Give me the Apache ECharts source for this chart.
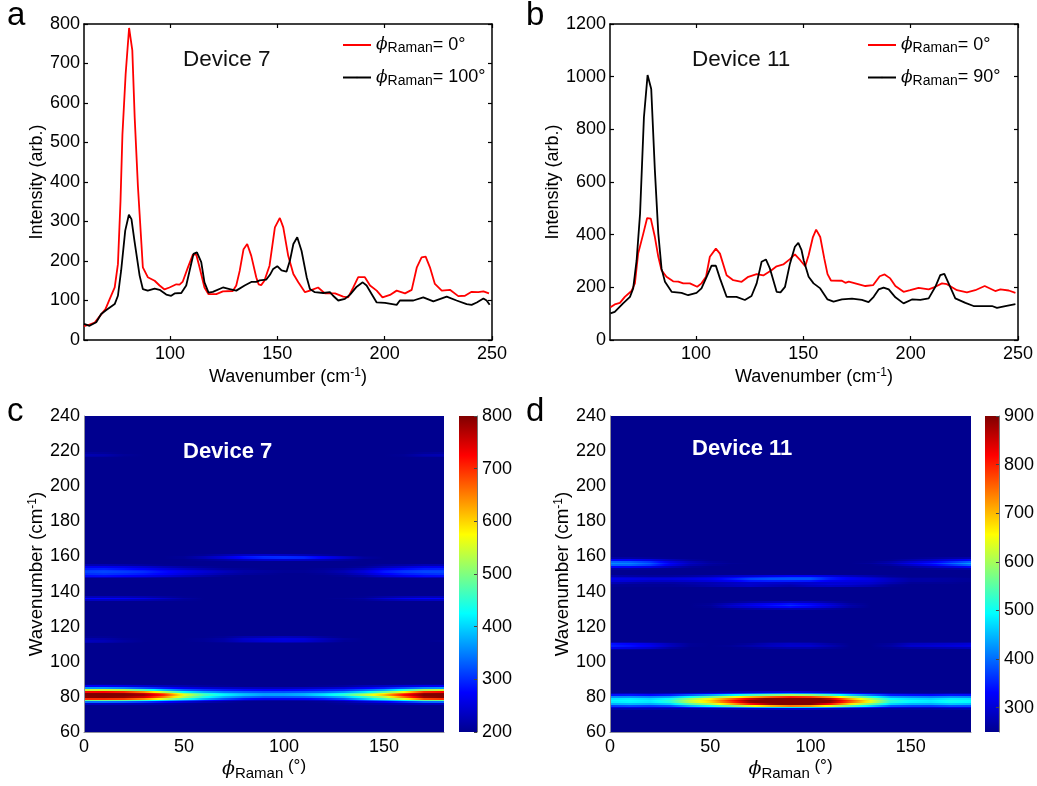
<!DOCTYPE html>
<html><head><meta charset="utf-8">
<style>html,body{margin:0;padding:0;background:#fff}#c{width:1037px;height:786px}</style>
<script src="https://cdn.jsdelivr.net/npm/echarts@6/dist/echarts.min.js"></script>
</head><body><div id="c"></div>
<script>
// Panel a, Device 7: [wavenumber, intensity]
const d7Phi0 = [[60,35],[62,38],[65,44],[67,58],[70,78],[72,104],[74.3,133],[75.8,192],[77,352],[77.9,521],[79.4,674],[81,790],[82.5,733],[83.6,564],[85.1,390],[85.9,319],[87.4,184],[89.7,159],[92.9,150],[95.2,138],[97.5,128],[99.8,133],[103,141],[104.5,140],[106,148],[108.4,184],[110.7,216],[112.3,216],[113.8,184],[116.1,133],[118,116],[121.6,116],[124.7,123],[129.3,124],[130.9,138],[132.5,175],[134.3,230],[136,243],[137.9,213],[140.2,159],[141.3,141],[142.5,139],[144,150],[146.4,188],[148.9,285],[151.2,309],[152.8,285],[155.1,213],[157.5,167],[159.8,146],[162.9,121],[165.2,125],[169,133],[172.2,118],[176.9,118],[180.7,110],[183,108],[185.4,133],[187.7,159],[190.8,159],[193.2,138],[196.3,125],[199,108],[202.5,114],[205.6,125],[209.5,118],[212.6,127],[215,184],[217.2,209],[219.1,211],[221.1,184],[223.4,142],[226.6,125],[230.4,127],[234.3,111],[237.4,112],[240.5,122],[243.6,121],[246,123],[248.6,118]];
const d7Phi100 = [[60,41],[62.6,36],[65.7,45],[68,66],[70.4,76],[74.3,91],[75.8,112],[77.3,176],[79.2,277],[80.9,317],[82.1,306],[83.5,251],[85.9,163],[87.4,129],[89.7,125],[92.9,130],[95.2,127],[98.3,115],[100.6,112],[102.2,118],[105.3,119],[107.6,138],[109.2,176],[111,218],[112.6,222],[114.6,197],[116.1,146],[118,120],[120,122],[124.7,133],[127.8,129],[130.9,125],[134.8,138],[137.9,147],[140.2,147],[141.8,151],[144.9,153],[146.6,165],[148.1,180],[150,187],[152,176],[154.3,173],[155.9,201],[157.5,243],[159.3,260],[161.3,226],[163.7,159],[165.2,129],[167.5,121],[171.4,119],[174.5,121],[176,112],[178.4,100],[181.5,104],[183.9,115],[187,135],[189.8,146],[191.6,138],[194,116],[196.3,95],[200.2,94],[205.6,89],[207.1,100],[213.4,100],[218,108],[222.7,98],[228.9,110],[233.5,100],[238.2,91],[240.5,89],[242.9,95],[246,105],[247.5,100],[248.9,89]];
// Panel b, Device 11: [wavenumber, intensity]
const d11Phi0 = [[60.2,124],[62.2,135],[64.6,141],[66.9,164],[70,186],[71.6,215],[73.1,328],[75.5,404],[77.3,463],[79,461],[80.9,391],[82.5,316],[84,265],[86.3,240],[89.4,223],[91.8,222],[94.1,215],[97.2,215],[100.6,202],[102.6,215],[104.7,240],[106.5,316],[109.3,347],[111.2,328],[114.3,246],[117.4,227],[121.3,221],[124.4,240],[128.3,250],[131.4,245],[135.2,265],[137.6,280],[140.7,287],[143.8,307],[146.1,325],[148.6,303],[150.9,280],[152.5,322],[154.5,391],[156,419],[157.9,391],[159.8,309],[161.3,250],[162.9,226],[168,225],[169.6,217],[171.2,222],[178.9,205],[179.7,201],[182.5,208],[185.6,242],[187.9,249],[190.5,234],[192.9,205],[196.7,183],[199.8,189],[203.7,198],[208.4,192],[211.5,202],[214.6,215],[216.9,212],[221.6,189],[226.2,181],[230.1,189],[234.5,205],[239.4,186],[241.8,192],[245.7,188],[248.8,179]];
const d11Phi90 = [[60.2,101],[62.2,107],[66.1,139],[69.3,164],[70.8,196],[72.4,303],[74,480],[75.8,846],[77.5,1006],[79.2,953],[80.9,644],[82.5,404],[84,271],[85.6,221],[88.7,183],[93.3,179],[96.4,170],[100.3,179],[102.6,196],[105,240],[107.3,282],[109.3,282],[111.2,234],[114.3,164],[118.9,164],[122.8,152],[125.9,167],[128.3,215],[130.6,297],[132.6,306],[134.5,271],[137.6,183],[139.4,181],[141.5,202],[143.8,290],[146.1,354],[147.7,369],[149.2,341],[150.2,303],[152.5,240],[154.8,215],[157.9,196],[161.3,154],[164.1,146],[168,154],[172.7,157],[177.3,152],[180.4,144],[182.8,164],[185.1,192],[187.4,199],[189.8,192],[192.9,162],[196.7,139],[200.6,154],[204.5,152],[208.4,158],[211.5,202],[213.8,246],[215.7,251],[217.7,215],[220.8,158],[225.5,141],[229.3,129],[237.9,129],[240.2,122],[244.1,129],[248.8,136]];
// Angle columns of both maps
const phiColumns = [0,10,20,30,40,50,60,70,80,90,100,110,120,130,140,150,160,170,180];
// Panel c: rows not listed sit at or below the colour floor
const wavenumbersC = [76,77,78,79,80,81,82,83,84,85,86,87,111,112,113,114,135,136,137,148,149,150,151,152,153,154,155,158,159,160,161,217,218,219];
const intensityC = [
[235,235,230,225,215,205,200,200,200,200,200,200,200,205,210,215,225,235,235],
[340,340,330,310,280,250,225,210,200,200,200,200,205,215,240,265,300,335,340],
[490,490,480,450,400,340,290,255,230,220,220,225,235,260,310,360,420,480,490],
[700,700,690,640,550,450,380,325,285,265,265,270,290,325,390,460,560,680,700],
[795,800,790,750,650,530,440,380,345,325,325,330,350,385,450,530,660,785,800],
[800,800,800,780,700,560,470,420,390,370,370,380,410,450,530,610,720,800,800],
[800,800,795,755,665,525,450,405,380,365,365,375,395,430,490,570,680,790,800],
[720,725,705,640,530,425,375,345,330,320,320,325,335,360,410,480,570,700,725],
[540,545,525,465,385,330,305,290,280,275,275,280,290,300,330,370,440,520,545],
[365,365,350,320,290,265,250,240,235,230,230,235,240,250,270,290,320,355,365],
[270,270,260,245,230,220,210,205,200,200,200,200,205,210,225,235,250,265,270],
[210,210,205,200,200,200,200,200,200,200,200,200,200,200,200,200,205,210,210],
[225,220,208,200,200,200,200,205,215,220,225,220,210,200,200,200,200,200,200],
[232,226,212,202,200,200,205,215,235,245,250,245,225,205,200,200,200,200,205],
[222,218,205,200,200,200,205,215,240,250,255,250,230,210,200,200,200,200,200],
[205,205,200,200,200,200,200,205,220,225,230,225,210,200,200,200,200,200,200],
[235,235,232,225,215,205,200,200,200,200,200,200,200,200,205,220,230,235,235],
[275,275,270,260,240,215,200,200,200,200,200,200,200,205,215,245,265,275,275],
[230,230,228,222,212,203,200,200,200,200,200,200,200,200,203,215,225,230,230],
[235,235,230,225,215,208,202,200,200,200,200,200,200,200,205,215,225,235,235],
[280,282,275,265,250,232,218,205,200,200,200,200,200,205,218,245,265,280,282],
[300,305,298,288,272,252,236,220,210,205,200,200,205,215,238,270,290,300,305],
[312,316,310,300,280,260,245,230,215,210,205,205,210,225,250,288,306,316,316],
[308,312,302,292,272,256,240,225,215,210,205,205,210,222,246,282,302,312,312],
[290,292,282,270,252,235,222,210,205,200,200,200,205,212,228,260,278,290,292],
[265,265,258,245,228,215,207,200,200,200,200,200,200,200,208,228,245,262,265],
[225,225,218,210,203,200,200,200,200,200,200,200,200,200,200,210,215,225,225],
[200,200,200,200,200,200,205,215,230,240,240,235,225,210,200,200,200,200,200],
[200,200,200,200,200,205,225,250,280,295,300,295,270,240,210,200,200,200,200],
[200,200,200,200,200,205,225,250,285,300,300,290,265,235,205,200,200,200,200],
[200,200,200,200,200,200,205,220,235,240,235,225,210,200,200,200,200,200,200],
[218,214,203,200,200,200,200,200,200,200,200,200,200,200,200,200,203,214,218],
[224,220,206,200,200,200,200,200,200,200,200,200,200,200,200,200,204,220,224],
[210,206,200,200,200,200,200,200,200,200,200,200,200,200,200,200,200,206,210]];
// Panel d
const wavenumbersD = [73,74,75,76,77,78,79,80,81,82,83,107,108,109,110,111,130,131,132,133,134,143,144,145,146,147,148,149,153,154,155,156,157,158,159];
const intensityD = [
[270,270,270,265,265,270,275,285,290,295,295,285,275,265,260,260,260,265,270],
[310,315,310,315,345,365,395,430,460,475,465,430,385,350,315,305,305,315,315],
[370,380,370,385,450,495,560,640,700,740,720,640,550,470,390,375,370,385,380],
[440,450,440,465,550,610,700,810,885,920,900,810,670,570,470,445,440,460,450],
[480,490,480,515,615,680,780,890,940,990,970,890,760,640,515,490,480,500,490],
[490,495,485,525,625,690,800,905,960,1000,980,905,775,650,525,495,485,505,495],
[475,485,470,500,590,660,750,850,920,960,940,860,710,600,495,475,465,485,480],
[420,425,415,435,500,560,630,700,760,800,780,710,600,515,435,420,410,425,420],
[340,345,335,350,390,430,480,530,570,600,585,530,460,405,350,340,335,345,340],
[280,285,275,285,305,325,350,385,410,430,415,385,345,315,285,275,270,280,280],
[250,250,250,250,250,260,270,285,300,310,300,280,265,250,250,250,250,250,250],
[270,265,255,250,250,250,250,250,250,250,250,250,250,250,250,250,250,250,250],
[320,310,295,265,250,250,250,255,265,270,270,260,250,250,255,265,270,275,280],
[350,340,320,285,255,250,255,270,285,295,295,275,250,250,265,295,300,305,310],
[340,330,310,280,255,250,250,260,280,290,285,265,250,250,260,285,290,295,300],
[280,275,265,255,250,250,250,250,260,265,262,250,250,250,250,260,262,265,270],
[250,250,250,250,250,250,255,265,270,275,270,260,250,250,250,250,250,250,250],
[250,250,250,250,250,255,285,300,320,335,320,295,265,250,250,250,250,250,250],
[250,250,250,250,250,260,295,320,340,360,340,310,270,250,250,250,250,250,250],
[250,250,250,250,250,255,280,305,325,340,325,295,262,250,250,250,250,250,250],
[250,250,250,250,250,250,255,265,275,285,280,265,252,250,250,250,250,250,250],
[255,255,255,255,260,270,280,290,280,270,285,290,285,275,255,250,250,250,250],
[260,255,255,255,265,275,285,295,285,280,295,305,300,285,260,250,250,250,250],
[280,270,265,265,270,275,285,295,295,290,295,300,300,295,275,255,255,255,250],
[305,300,290,290,295,305,320,345,350,350,345,320,310,305,285,265,265,260,255],
[315,310,305,305,310,320,345,375,385,385,385,345,325,310,285,265,265,260,255],
[300,295,290,290,295,305,325,350,365,375,375,345,320,295,270,255,255,255,250],
[270,265,260,260,265,275,290,300,315,325,325,305,285,270,255,250,250,250,250],
[265,265,258,252,250,250,250,250,250,250,250,250,250,250,250,250,255,262,270],
[330,330,315,280,258,250,250,250,250,250,250,250,250,250,250,262,280,305,335],
[395,395,370,315,275,258,250,250,250,250,250,250,250,250,262,290,320,360,400],
[420,415,390,330,288,266,255,250,250,250,250,250,250,260,280,318,348,395,435],
[395,390,365,310,278,258,250,250,250,250,250,250,250,252,268,295,318,358,395],
[330,328,312,280,258,250,250,250,250,250,250,250,250,250,252,268,285,310,335],
[265,265,258,252,250,250,250,250,250,250,250,250,250,250,250,252,258,265,270]];
const xTicksLine = [100,150,200,250];
const xTicksMap = [0,50,100,150];
const colorbarTicksD = [300,400,500,600,700,800,900];
const rangeC = [200,800];
const rangeD = [250,900];
const jetColors = ['#00008f','#0000ff','#00ffff','#ffff00','#ff0000','#800000'];
const jetStops = [0,0.125,0.375,0.625,0.875,1];

function jet(t){
  t=Math.max(0,Math.min(1,t));
  let i=0; while(i<jetStops.length-2 && t>jetStops[i+1]) i++;
  return echarts.color.lerp((t-jetStops[i])/(jetStops[i+1]-jetStops[i]),[jetColors[i],jetColors[i+1]]);
}
const FONT='"Liberation Sans",Arial,sans-serif';
const lab={fontFamily:FONT,fontSize:18,color:'#000'};
const nameRich={
  a:{fontFamily:FONT,fontSize:18,color:'#000'},
  u:{fontFamily:FONT,fontSize:12,color:'#000',padding:[0,0,8,0]},
  p:{fontFamily:'"DejaVu Serif",serif',fontStyle:'italic',fontSize:19,color:'#000'},
  s:{fontFamily:FONT,fontSize:15,color:'#000',padding:[8,0,0,0]},
  g:{fontFamily:FONT,fontSize:17,color:'#000',padding:[0,0,6,0]}
};
const nameRichTall={...nameRich,a:{...nameRich.a,fontSize:18.8}};
const WN='{a|Wavenumber (cm}{u|-1}{a|)}';
const grids=[
 {left:84,top:24,width:408,height:316},
 {left:610,top:24,width:408,height:316},
 {left:84,top:416,width:360,height:316,show:true,backgroundColor:jetColors[0],borderWidth:0},
 {left:610,top:416,width:361,height:316,show:true,backgroundColor:jetColors[0],borderWidth:0},
 {left:459,top:416,width:18,height:316},
 {left:985,top:416,width:18,height:316}
];
const xAxes=[],yAxes=[],series=[];
function linePanel(g,ymax,yint,name1,data1,name2,data2){
  const frame={type:'value',gridIndex:g,axisLine:{show:true,onZero:false,lineStyle:{color:'#000',width:1.5}},axisTick:{inside:true,length:4,lineStyle:{color:'#000',width:1.2}},splitLine:{show:false}};
  const xi=xAxes.length, yi=yAxes.length;
  xAxes.push({...frame,position:'bottom',min:60,max:250,axisLabel:{...lab,margin:5,customValues:xTicksLine},axisTick:{...frame.axisTick,customValues:xTicksLine},
    name:WN,nameLocation:'middle',nameGap:27,nameTextStyle:{rich:nameRich}});
  xAxes.push({...frame,position:'top',min:60,max:250,axisLabel:{show:false},axisTick:{...frame.axisTick,customValues:xTicksLine}});
  yAxes.push({...frame,position:'left',min:0,max:ymax,interval:yint,axisLabel:{...lab,margin:4,formatter:v=>String(v)},
    name:'Intensity (arb.)',nameLocation:'middle',nameGap:35,nameRotate:90,nameTextStyle:{fontFamily:FONT,fontSize:18,color:'#000'}});
  yAxes.push({...frame,position:'right',min:0,max:ymax,interval:yint,axisLabel:{show:false}});
  [[name1,data1,'#ff0000'],[name2,data2,'#000000']].forEach(([n,d,c])=>series.push({
    type:'line',name:n,xAxisIndex:xi,yAxisIndex:yi,data:d,showSymbol:false,symbol:'none',
    lineStyle:{color:c,width:1.8},itemStyle:{color:c},animation:false,clip:true
  }));
}
function mapPanel(g,wns,table,range){
  const xi=xAxes.length, yi=yAxes.length;
  const line={show:true,onZero:false,lineStyle:{color:'#8d8d9c',width:1}};
  xAxes.push({type:'value',gridIndex:g,position:'bottom',min:0,max:180,z:3,axisLine:line,axisTick:{show:false,customValues:xTicksMap},
    axisLabel:{...lab,margin:6,customValues:xTicksMap},splitLine:{show:false},
    name:'{p|\u03d5}{s|Raman}{g| (\u00b0)}',nameLocation:'middle',nameGap:26,nameTextStyle:{rich:nameRich}});
  yAxes.push({type:'value',gridIndex:g,position:'left',min:60,max:240,interval:20,z:3,axisLine:line,axisTick:{show:false},
    axisLabel:{...lab,margin:4},splitLine:{show:false},
    name:WN,nameLocation:'middle',nameGap:34,nameRotate:90,nameTextStyle:{rich:nameRichTall}});
  series.push({
    type:'custom',name:'Map '+g,xAxisIndex:xi,yAxisIndex:yi,animation:false,silent:true,
    data:wns.map((w,i)=>[w,...table[i]]),
    encode:{y:0},
    renderItem(params,api){
      const w=api.value(0);
      const y0=Math.round(api.coord([0,w+0.5])[1]), y1=Math.round(api.coord([0,w-0.5])[1]);
      const x0=Math.round(api.coord([phiColumns[0],w])[0]), x1=Math.round(api.coord([phiColumns[phiColumns.length-1],w])[0]);
      const stops=[], sub=4, span=range[1]-range[0], n=phiColumns.length-1;
      for(let k=0;k<n;k++){
        const a=api.value(k+1), b=api.value(k+2);
        for(let s=0;s<sub;s++){
          const v=a+(b-a)*s/sub;
          stops.push({offset:(k+s/sub)/n,color:jet((v-range[0])/span)});
        }
      }
      stops.push({offset:1,color:jet((api.value(n+1)-range[0])/span)});
      return {type:'rect',shape:{x:x0,y:y0,width:x1-x0,height:y1-y0},
        style:{fill:new echarts.graphic.LinearGradient(0,0,1,0,stops)}};
    }
  });
}
function colorbar(g,range,int,ticks){
  const xi=xAxes.length, yi=yAxes.length;
  xAxes.push({type:'value',gridIndex:g,min:0,max:1,show:false});
  const y={type:'value',gridIndex:g,position:'right',min:range[0],max:range[1],z:3,
    axisLine:{show:true,onZero:false,lineStyle:{color:'#777',width:1}},axisTick:{inside:true,length:3,lineStyle:{color:'#444'}},
    axisLabel:{...lab,margin:5},splitLine:{show:false}};
  if(ticks){y.axisLabel.customValues=ticks;y.axisTick.customValues=ticks;} else {y.interval=int;}
  yAxes.push(y);
  series.push({type:'custom',name:'Colour scale '+g,xAxisIndex:xi,yAxisIndex:yi,animation:false,silent:true,
    data:[[0,range[0],1,range[1]]],encode:{x:[0,2],y:[1,3]},
    renderItem(params,api){
      const a=api.coord([api.value(0),api.value(3)]), b=api.coord([api.value(2),api.value(1)]);
      return {type:'rect',shape:{x:a[0],y:a[1],width:b[0]-a[0],height:b[1]-a[1]},
        style:{fill:new echarts.graphic.LinearGradient(0,1,0,0,jetColors.map((c,i)=>({offset:jetStops[i],color:c})))}};
    }
  });
}
linePanel(0,800,100,'Device 7, 0\u00b0',d7Phi0,'Device 7, 100\u00b0',d7Phi100);
linePanel(1,1200,200,'Device 11, 0\u00b0',d11Phi0,'Device 11, 90\u00b0',d11Phi90);
mapPanel(2,wavenumbersC,intensityC,rangeC);
mapPanel(3,wavenumbersD,intensityD,rangeD);
colorbar(4,rangeC,100);
colorbar(5,rangeD,100,colorbarTicksD);

const legendRich={
  i:{fontFamily:'"DejaVu Serif",serif',fontStyle:'italic',fontSize:17,color:'#000'},
  s:{fontFamily:FONT,fontSize:14,color:'#000',padding:[7,0,0,0]},
  t:{fontFamily:FONT,fontSize:18,color:'#000'}
};
const legendOf=(left,names)=>({show:true,orient:'vertical',left,top:31,itemWidth:28,itemHeight:2,itemGap:13,data:names,selectedMode:false,
  formatter:n=>`{i|\u03d5}{s|Raman}{t|= ${n.split(', ')[1]}}`,textStyle:{rich:legendRich}});
function text(x,y,s,size,color,bold){
  return {type:'text',x,y,z:100,silent:true,style:{text:s,fontFamily:FONT,fontSize:size,fontWeight:bold?'bold':'normal',fill:color,textVerticalAlign:'middle'}};
}
const chart=echarts.init(document.getElementById('c'),null,{renderer:'canvas'});
chart.setOption({
  backgroundColor:'#fff',animation:false,
  grid:grids,xAxis:xAxes,yAxis:yAxes,series,
  legend:[legendOf(337,['Device 7, 0\u00b0','Device 7, 100\u00b0']),legendOf(862,['Device 11, 0\u00b0','Device 11, 90\u00b0'])],
  graphic:[
    text(7,16,'a',33,'#000'),text(526,16,'b',33,'#000'),text(7,412,'c',33,'#000'),text(526,412,'d',33,'#000'),
    text(183,60,'Device 7',22.5,'#111'),text(692,60,'Device 11',22.5,'#111'),
    text(183,452,'Device 7',22,'#fff',true),text(692,449,'Device 11',22,'#fff',true)
  ]
});
</script></body></html>
